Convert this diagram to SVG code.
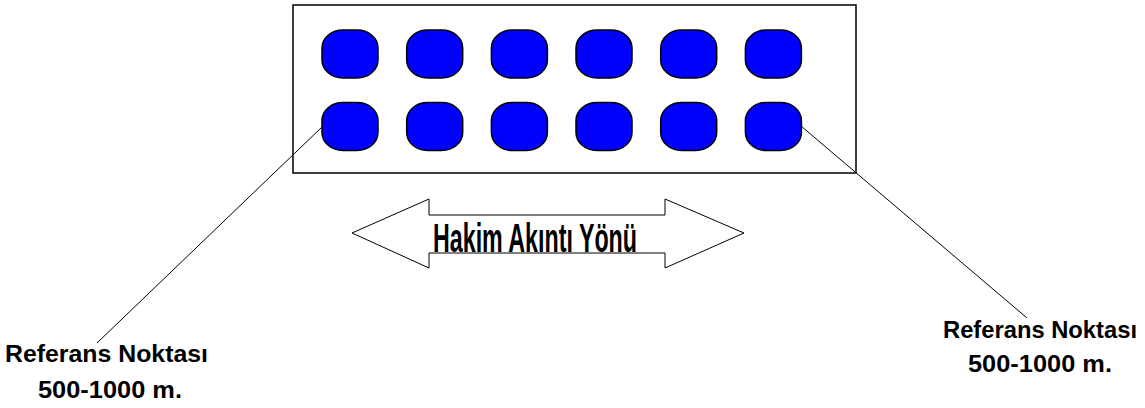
<svg xmlns="http://www.w3.org/2000/svg" width="1145" height="408" viewBox="0 0 1145 408">
<style>
.dot{fill:#0000ff;stroke:#000;stroke-width:1.5}
.frame{fill:#fff;stroke:#000;stroke-width:1.5}
.lead{stroke:#000;stroke-width:1;fill:none}
.lbl{font-family:"Liberation Sans",Arial,sans-serif;font-weight:bold;fill:#000;text-anchor:middle}
</style>
<rect width="1145" height="408" fill="#fff"/>
<g id="field">
<rect class="frame" x="293" y="5" width="563" height="168"/>
</g>
<g id="dots">
<rect class="dot" x="322" y="30" width="56" height="48" rx="21" ry="18"/>
<rect class="dot" x="406.7" y="30" width="56" height="48" rx="21" ry="18"/>
<rect class="dot" x="491.4" y="30" width="56" height="48" rx="21" ry="18"/>
<rect class="dot" x="576" y="30" width="56" height="48" rx="21" ry="18"/>
<rect class="dot" x="660.7" y="30" width="56" height="48" rx="21" ry="18"/>
<rect class="dot" x="745.4" y="30" width="56" height="48" rx="21" ry="18"/>
<rect class="dot" x="322" y="102.5" width="56" height="48" rx="21" ry="18"/>
<rect class="dot" x="406.7" y="102.5" width="56" height="48" rx="21" ry="18"/>
<rect class="dot" x="491.4" y="102.5" width="56" height="48" rx="21" ry="18"/>
<rect class="dot" x="576" y="102.5" width="56" height="48" rx="21" ry="18"/>
<rect class="dot" x="660.7" y="102.5" width="56" height="48" rx="21" ry="18"/>
<rect class="dot" x="745.4" y="102.5" width="56" height="48" rx="21" ry="18"/>
</g>
<g id="connectors">
<line class="lead" x1="322" y1="127" x2="97" y2="343"/>
<line class="lead" x1="801" y1="126" x2="1027" y2="318"/>
</g>
<g id="flow-arrow">
<polygon points="352,233 429,199 429,215 665,215 665,199 744,233 665,268 665,253 429,253 429,268" fill="#fff" stroke="#000" stroke-width="1"/>
<text class="lbl" x="535" y="252" font-size="40" textLength="204" lengthAdjust="spacingAndGlyphs">Hakim Akıntı Yönü</text>
</g>
<g id="ref-left">
<text class="lbl" x="106.5" y="362" font-size="23" textLength="203" lengthAdjust="spacingAndGlyphs">Referans Noktası</text>
<text class="lbl" x="110" y="398" font-size="23" textLength="144" lengthAdjust="spacingAndGlyphs">500-1000 m.</text>
</g>
<g id="ref-right">
<text class="lbl" x="1040" y="338" font-size="23" textLength="194" lengthAdjust="spacingAndGlyphs">Referans Noktası</text>
<text class="lbl" x="1040" y="372" font-size="23" textLength="144" lengthAdjust="spacingAndGlyphs">500-1000 m.</text>
</g>
</svg>
